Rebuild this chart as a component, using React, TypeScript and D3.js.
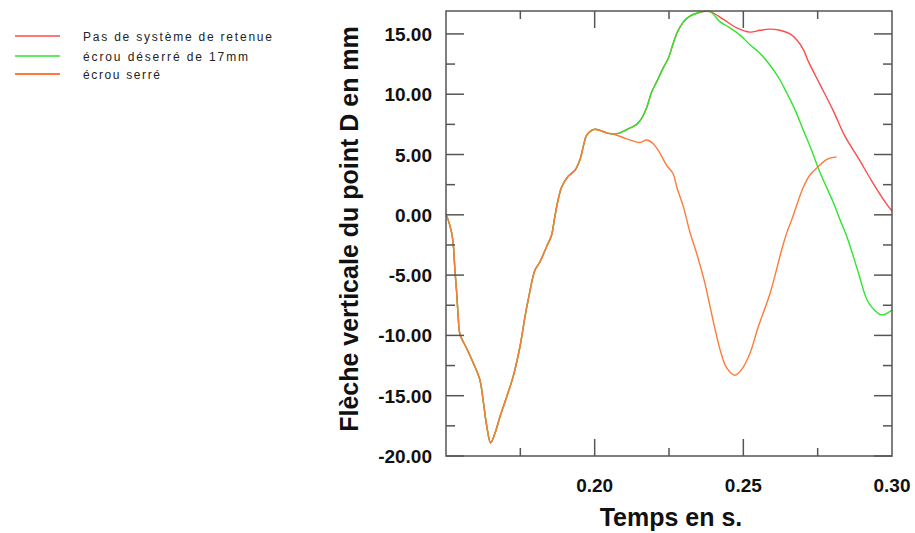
import React from "react";
import * as d3 from "d3";

// ---- data (time in s, deflection in mm) ----
const sharedStart: [number, number][] = [
  [0.15, 0.0], [0.1507, -0.4], [0.1519, -1.5], [0.1525, -2.6], [0.153, -4.6], [0.1536, -6.5],
  [0.1541, -8.4], [0.1547, -9.9], [0.157, -11.1], [0.1592, -12.3], [0.1614, -13.7], [0.1626, -15.6],
  [0.1637, -17.5], [0.165, -18.9], [0.1665, -18.1], [0.1682, -16.7], [0.1704, -15.1], [0.1726, -13.4],
  [0.1749, -10.9], [0.1766, -8.4], [0.1777, -7.0], [0.1799, -4.6], [0.1816, -3.9], [0.1839, -2.6],
  [0.1855, -1.7], [0.1865, -0.3], [0.1875, 1.0], [0.1889, 2.3], [0.1911, 3.2], [0.1934, 3.7],
  [0.1951, 4.6], [0.1962, 5.7], [0.1973, 6.6], [0.199, 7.0], [0.2001, 7.1], [0.2018, 7.0],
  [0.204, 6.8], [0.2063, 6.7],
];
const sharedRise: [number, number][] = [
  [0.2085, 6.8], [0.2119, 7.2], [0.2141, 7.5], [0.2158, 8.0], [0.2175, 8.9], [0.2192, 10.2],
  [0.2208, 11.0], [0.2231, 12.2], [0.2248, 13.0], [0.2264, 14.2], [0.2281, 15.3], [0.231, 16.3],
  [0.2354, 16.8], [0.2388, 16.85],
];
const redTail: [number, number][] = [
  [0.2433, 16.2], [0.2478, 15.5], [0.2522, 15.15], [0.2556, 15.3], [0.259, 15.4], [0.2623, 15.3],
  [0.2657, 15.0], [0.268, 14.5], [0.2702, 13.7], [0.2719, 12.7], [0.2758, 10.8], [0.2803, 8.6],
  [0.2842, 6.5], [0.2887, 4.7], [0.2932, 2.8], [0.2976, 1.1], [0.3, 0.3],
];
const greenTail: [number, number][] = [
  [0.2422, 16.0], [0.2455, 15.5], [0.2489, 14.9], [0.2522, 14.1], [0.2556, 13.4], [0.259, 12.4],
  [0.2623, 11.2], [0.2646, 10.1], [0.2674, 8.7], [0.2702, 7.0], [0.2724, 5.7], [0.2758, 3.5],
  [0.2803, 1.0], [0.2825, -0.4], [0.2848, -1.8], [0.2887, -4.8], [0.2915, -7.0], [0.2937, -7.8],
  [0.2965, -8.3], [0.3, -7.9],
];
const orangeTail: [number, number][] = [
  [0.2108, 6.3], [0.2152, 6.0], [0.2175, 6.2], [0.2197, 5.9], [0.222, 5.1], [0.2242, 4.1],
  [0.2264, 3.4], [0.2276, 2.3], [0.2298, 0.7], [0.2321, -1.5], [0.2343, -3.2], [0.2371, -5.7],
  [0.2388, -7.6], [0.2405, -9.5], [0.2422, -11.2], [0.2444, -12.7], [0.2472, -13.3], [0.2495, -12.8],
  [0.2522, -11.5], [0.255, -9.3], [0.259, -6.5], [0.2629, -2.9], [0.2646, -1.5], [0.2663, -0.4],
  [0.2674, 0.4], [0.2702, 2.3], [0.2724, 3.3], [0.2752, 4.0], [0.2781, 4.6], [0.2814, 4.8],
];

const seriesNames = ["Pas de système de retenue", "écrou déserré de 17mm", "écrou serré"];
const seriesColors = ["#ff4a4a", "#2ee62e", "#ff7a3a"];
const seriesData: [number, number][][] = [
  sharedStart.concat(sharedRise, redTail),
  sharedStart.concat(sharedRise, greenTail),
  sharedStart.concat(orangeTail),
];

const yMajorTicks = [-20, -15, -10, -5, 0, 5, 10, 15];
const yMinorTicks = [-17.5, -12.5, -7.5, -2.5, 2.5, 7.5, 12.5];
const xMajorTicks = [0.2, 0.25];
const xMinorTicks = [0.175, 0.225, 0.275];
const xLabelTicks = [0.2, 0.25, 0.3];

const xTitle = "Temps en s.";
const yTitle = "Flèche verticale du point D en mm";

const legendTextWidths = [189, 165, 77];

export default function App() {
  const left = 446, right = 892, top = 11, bottom = 456;
  const x = d3.scaleLinear().domain([0.15, 0.3]).range([left, right]);
  const y = d3.scaleLinear().domain([-20, 16.9]).range([bottom, top]);
  const line = d3
    .line<[number, number]>()
    .x((d) => x(d[0]))
    .y((d) => y(d[1]))
    .curve(d3.curveCatmullRom.alpha(0.5));

  const axisColor = "#555";
  const font = "'Liberation Sans', Arial, Helvetica, sans-serif";
  const legendRowsY = [36, 56, 74];

  return (
    <svg
      width={915}
      height={533}
      style={{ position: "absolute", left: 0, top: 0, background: "#fff" }}
    >
      <rect x={0} y={0} width={915} height={533} fill="#fff" />
      {/* legend */}
      {seriesNames.map((n, i) => (
        <g key={n}>
          <line
            x1={15}
            x2={60}
            y1={legendRowsY[i]}
            y2={legendRowsY[i]}
            stroke={seriesColors[i]}
            strokeWidth={i === 2 ? 2 : 1.5}
          />
          <text
            x={83}
            y={legendRowsY[i] + 5}
            fontFamily={font}
            fontSize={12}
            fill="#222"
            textLength={legendTextWidths[i]}
            lengthAdjust="spacing"
          >
            {n}
          </text>
        </g>
      ))}

      {/* series */}
      <defs>
        <clipPath id="plotclip">
          <rect x={left} y={top - 1} width={right - left + 1} height={bottom - top + 1} />
        </clipPath>
      </defs>
      <g clipPath="url(#plotclip)">
        {seriesData.map((d, i) => (
          <path
            key={i}
            d={line(d) || ""}
            fill="none"
            stroke={seriesColors[i]}
            strokeWidth={1.4}
            strokeLinejoin="round"
          />
        ))}
      </g>

      {/* frame */}
      <rect
        x={left}
        y={top}
        width={right - left}
        height={bottom - top}
        fill="none"
        stroke={axisColor}
        strokeWidth={1.5}
      />
      {/* y ticks */}
      {yMajorTicks.map((v) => (
        <g key={"ym" + v}>
          <line x1={left} x2={left + 18} y1={y(v)} y2={y(v)} stroke={axisColor} strokeWidth={1.5} />
          <line x1={right - 18} x2={right} y1={y(v)} y2={y(v)} stroke={axisColor} strokeWidth={1.5} />
          <text
            x={432}
            y={y(v) + 7}
            textAnchor="end"
            fontFamily={font}
            fontWeight="bold"
            fontSize={19}
            fill="#111"
          >
            {v.toFixed(2)}
          </text>
        </g>
      ))}
      {yMinorTicks.map((v) => (
        <g key={"yn" + v}>
          <line x1={left} x2={left + 9} y1={y(v)} y2={y(v)} stroke={axisColor} strokeWidth={1.5} />
          <line x1={right - 9} x2={right} y1={y(v)} y2={y(v)} stroke={axisColor} strokeWidth={1.5} />
        </g>
      ))}
      {/* x ticks */}
      {xMajorTicks.map((v) => (
        <g key={"xm" + v}>
          <line x1={x(v)} x2={x(v)} y1={bottom} y2={bottom - 17} stroke={axisColor} strokeWidth={1.5} />
          <line x1={x(v)} x2={x(v)} y1={top} y2={top + 17} stroke={axisColor} strokeWidth={1.5} />
        </g>
      ))}
      {xMinorTicks.map((v) => (
        <g key={"xn" + v}>
          <line x1={x(v)} x2={x(v)} y1={bottom} y2={bottom - 8} stroke={axisColor} strokeWidth={1.5} />
          <line x1={x(v)} x2={x(v)} y1={top} y2={top + 8} stroke={axisColor} strokeWidth={1.5} />
        </g>
      ))}
      {xLabelTicks.map((v) => (
        <text
          key={"xl" + v}
          x={x(v)}
          y={492}
          textAnchor="middle"
          fontFamily={font}
          fontWeight="bold"
          fontSize={19}
          fill="#111"
        >
          {v.toFixed(2)}
        </text>
      ))}

      {/* titles */}
      <text
        x={671}
        y={526}
        textAnchor="middle"
        fontFamily={font}
        fontWeight="bold"
        fontSize={25}
        fill="#111"
      >
        {xTitle}
      </text>
      <text
        transform={`translate(358, 229) rotate(-90)`}
        textAnchor="middle"
        fontFamily={font}
        fontWeight="bold"
        fontSize={25}
        fill="#111"
      >
        {yTitle}
      </text>
    </svg>
  );
}
